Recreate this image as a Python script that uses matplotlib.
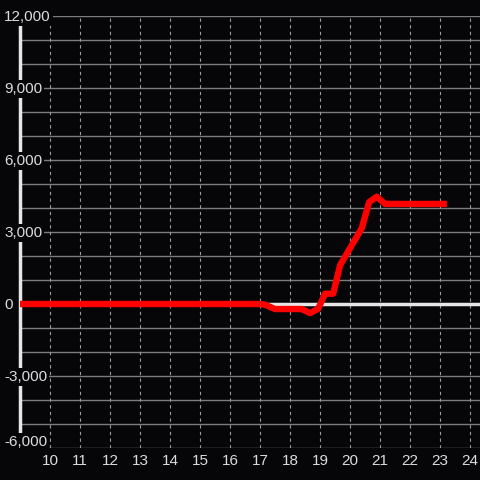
import matplotlib
matplotlib.use("Agg")
import matplotlib.pyplot as plt
import matplotlib.transforms as mtransforms

# Data
x_vals = [9.0, 17.0, 17.17, 17.5, 18.39, 18.67, 18.94, 19.17, 19.44, 19.67, 19.92, 20.39, 20.64, 20.89, 21.17, 23.23]
y_vals = [0, 0, -30, -210, -210, -380, -200, 430, 430, 1620, 2150, 3150, 4250, 4470, 4170, 4170]
y_ticks = [-6000, -3000, 0, 3000, 6000, 9000, 12000]
y_tick_labels = ["-6,000", "-3,000", "0", "3,000", "6,000", "9,000", "12,000"]
x_ticks = list(range(10, 25))
x_tick_labels = [str(v) for v in x_ticks]

BG = "#060609"
TXT = "#dcdcdc"
plt.rcParams['font.family'] = ['Liberation Sans', 'DejaVu Sans']

fig = plt.figure(figsize=(4.8, 4.8), dpi=100, facecolor=BG)
ax = fig.add_axes([20 / 480, 32 / 480, 460 / 480, 432 / 480], facecolor=BG)
ax.set_xlim(9, 9 + 460 / 30)
ax.set_ylim(-6000, 12000)
for s in ax.spines.values():
    s.set_visible(False)
ax.set_xticks([])
ax.set_yticks([])

# horizontal grid every 1000
for yv in range(-6000, 12001, 1000):
    ax.axhline(yv, color="#7c7c7c", lw=1.0, zorder=1)
# vertical dashed grid
for xv in x_ticks:
    ax.axvline(xv, color="#9a9a9a", lw=0.8, ls=(0, (3, 3)), zorder=1)

# zero line
ax.axhline(0, color="#e6e6e6", lw=2.5, zorder=2)
# left axis line
ax.axvline(9.0, ymin=0, ymax=(448 - 24) / 432, color="#e6e6e6", lw=2.5, zorder=2, clip_on=False)

# data line
ax.plot(x_vals, y_vals, color="#ff0000", lw=4.6, solid_joinstyle="round", solid_capstyle="butt", zorder=3)

# y tick labels inside, left aligned with background box
trans_y = mtransforms.blended_transform_factory(fig.transFigure, ax.transData)
for yv, lab in zip(y_ticks, y_tick_labels):
    off = mtransforms.ScaledTranslation(0, (6 / 100) if yv == -6000 else (-1 / 100), fig.dpi_scale_trans)
    fig.text(4 / 480, yv, lab, transform=trans_y + off, ha="left", va="center", color=TXT, fontsize=11,
             bbox=dict(facecolor=BG, edgecolor="none", pad=1.5), zorder=5)

# x tick labels
trans_x = mtransforms.blended_transform_factory(ax.transData, fig.transFigure)
for xv, lab in zip(x_ticks, x_tick_labels):
    fig.text(xv, 1 - 461 / 480, lab, transform=trans_x, ha="center", va="center", color=TXT, fontsize=11)

fig.savefig("out.png", dpi=100, facecolor=BG)
